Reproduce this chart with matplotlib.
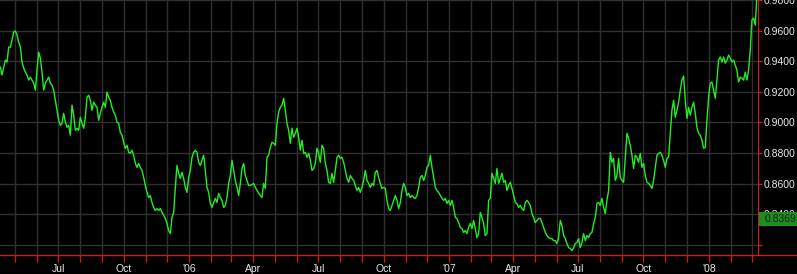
import matplotlib
matplotlib.use('Agg')
from matplotlib import pyplot as plt
from matplotlib import dates as mdates
from matplotlib import transforms
from matplotlib.lines import Line2D
from matplotlib.patches import Rectangle
import numpy as np
import pandas as pd

# closing prices, sampled evenly from 2005-04-10 to 2008-03-08
first_day = '2005-04-10 12:00'
last_day = '2008-03-08 12:00'
prices = [
	0.9362, 0.9310, 0.9362, 0.9408, 0.9395, 0.9493, 0.9493, 0.9539, 0.9591, 0.9598,
	0.9572, 0.9526, 0.9493, 0.9395, 0.9355, 0.9329, 0.9310, 0.9277, 0.9296, 0.9277,
	0.9257, 0.9211, 0.9342, 0.9460, 0.9421, 0.9329, 0.9211, 0.9257, 0.9277, 0.9296,
	0.9257, 0.9244, 0.9211, 0.9145, 0.9080, 0.9014, 0.8981, 0.8994, 0.9060, 0.9001,
	0.8968, 0.8981, 0.8916, 0.9113, 0.9047, 0.8949, 0.8962, 0.8949, 0.9034, 0.8994,
	0.8962, 0.9034, 0.9165, 0.9178, 0.9145, 0.9080, 0.9132, 0.9113, 0.9099, 0.9014,
	0.9060, 0.9099, 0.9132, 0.9099, 0.9198, 0.9165, 0.9145, 0.9099, 0.9067, 0.9047,
	0.9001, 0.8994, 0.8935, 0.8916, 0.8870, 0.8831, 0.8850, 0.8804, 0.8798, 0.8818,
	0.8785, 0.8732, 0.8706, 0.8732, 0.8706, 0.8686, 0.8640, 0.8588, 0.8542, 0.8509,
	0.8522, 0.8476, 0.8444, 0.8424, 0.8437, 0.8424, 0.8437, 0.8411, 0.8391, 0.8372,
	0.8339, 0.8293, 0.8273, 0.8378, 0.8411, 0.8575, 0.8719, 0.8667, 0.8634, 0.8673,
	0.8634, 0.8575, 0.8542, 0.8640, 0.8686, 0.8772, 0.8804, 0.8818, 0.8804, 0.8739,
	0.8719, 0.8752, 0.8785, 0.8686, 0.8575, 0.8542, 0.8470, 0.8444, 0.8476, 0.8503,
	0.8476, 0.8536, 0.8509, 0.8490, 0.8444, 0.8457, 0.8509, 0.8601, 0.8653, 0.8752,
	0.8686, 0.8621, 0.8575, 0.8522, 0.8601, 0.8699, 0.8732, 0.8653, 0.8621, 0.8588,
	0.8588, 0.8594, 0.8601, 0.8575, 0.8555, 0.8536, 0.8522, 0.8509, 0.8601, 0.8568,
	0.8772, 0.8785, 0.8837, 0.8870, 0.8863, 0.8850, 0.8994, 0.9067, 0.9099, 0.9113,
	0.9158, 0.9080, 0.8994, 0.8949, 0.8863, 0.8962, 0.8903, 0.8929, 0.8962, 0.8903,
	0.8818, 0.8883, 0.8798, 0.8804, 0.8772, 0.8798, 0.8752, 0.8686, 0.8699, 0.8732,
	0.8831, 0.8798, 0.8739, 0.8850, 0.8831, 0.8732, 0.8686, 0.8608, 0.8601, 0.8667,
	0.8608, 0.8686, 0.8772, 0.8785, 0.8765, 0.8772, 0.8739, 0.8686, 0.8634, 0.8608,
	0.8653, 0.8634, 0.8621, 0.8588, 0.8555, 0.8575, 0.8542, 0.8575, 0.8621, 0.8686,
	0.8621, 0.8601, 0.8575, 0.8601, 0.8588, 0.8673, 0.8686, 0.8640, 0.8601, 0.8568,
	0.8575, 0.8568, 0.8490, 0.8437, 0.8424, 0.8457, 0.8490, 0.8522, 0.8490, 0.8437,
	0.8476, 0.8555, 0.8601, 0.8575, 0.8522, 0.8536, 0.8509, 0.8522, 0.8509, 0.8503,
	0.8522, 0.8575, 0.8640, 0.8653, 0.8621, 0.8653, 0.8706, 0.8719, 0.8785, 0.8706,
	0.8640, 0.8575, 0.8555, 0.8542, 0.8522, 0.8503, 0.8490, 0.8503, 0.8470, 0.8490,
	0.8457, 0.8490, 0.8444, 0.8378, 0.8372, 0.8345, 0.8313, 0.8306, 0.8280, 0.8293,
	0.8273, 0.8313, 0.8339, 0.8306, 0.8358, 0.8306, 0.8247, 0.8273, 0.8411, 0.8378,
	0.8339, 0.8260, 0.8273, 0.8490, 0.8503, 0.8667, 0.8634, 0.8601, 0.8699, 0.8601,
	0.8634, 0.8667, 0.8608, 0.8621, 0.8555, 0.8588, 0.8608, 0.8568, 0.8522, 0.8476,
	0.8470, 0.8444, 0.8457, 0.8437, 0.8424, 0.8476, 0.8490, 0.8476, 0.8457, 0.8404,
	0.8378, 0.8345, 0.8358, 0.8372, 0.8372, 0.8345, 0.8313, 0.8280, 0.8260, 0.8247,
	0.8240, 0.8240, 0.8227, 0.8227, 0.8208, 0.8247, 0.8358, 0.8326, 0.8260, 0.8240,
	0.8208, 0.8181, 0.8175, 0.8162, 0.8181, 0.8208, 0.8214, 0.8240, 0.8181, 0.8214,
	0.8273, 0.8227, 0.8260, 0.8247, 0.8273, 0.8280, 0.8339, 0.8378, 0.8470, 0.8476,
	0.8457, 0.8503, 0.8444, 0.8404, 0.8490, 0.8555, 0.8804, 0.8739, 0.8765, 0.8621,
	0.8653, 0.8765, 0.8640, 0.8621, 0.8608, 0.8772, 0.8929, 0.8896, 0.8850, 0.8785,
	0.8699, 0.8785, 0.8772, 0.8739, 0.8798, 0.8706, 0.8732, 0.8653, 0.8608, 0.8601,
	0.8588, 0.8568, 0.8621, 0.8706, 0.8785, 0.8798, 0.8804, 0.8785, 0.8752, 0.8706,
	0.8765, 0.8772, 0.8929, 0.9080, 0.9145, 0.9034, 0.9080, 0.9132, 0.9211, 0.9277,
	0.9303, 0.9145, 0.9027, 0.9099, 0.9047, 0.9099, 0.9132, 0.9060, 0.8968, 0.8929,
	0.8916, 0.8883, 0.8831, 0.8837, 0.9014, 0.9165, 0.9257, 0.9264, 0.9211, 0.9158,
	0.9277, 0.9408, 0.9428, 0.9395, 0.9428, 0.9388, 0.9408, 0.9441, 0.9421, 0.9395,
	0.9408, 0.9375, 0.9342, 0.9264, 0.9296, 0.9290, 0.9277, 0.9329, 0.9277, 0.9342,
	0.9473, 0.9670, 0.9683, 0.9637, 0.9834,
]
last_quote = 0.8369

price_ticks = [0.82, 0.84, 0.86, 0.88, 0.90, 0.92, 0.94, 0.96, 0.98]
view_start = '2005-04-10'
view_end = '2008-03-10'
view_low = 0.8136
view_high = 0.9801

days = pd.date_range(first_day, last_day, periods=len(prices))

red = '#c81e1e';
grid_clr = '#303030';
txt_clr = '#e8e8e8';
font = 'Liberation Sans';

fig = plt.figure(figsize=(7.97, 2.74), dpi=100, facecolor='black');
ax = fig.add_axes([0.0, 19.5/274, 758/797, 254.5/274]);
ax.set_facecolor('black');

ax.plot(days, prices, color='#22ee22', linewidth=1.0);

ax.set_xlim(pd.Timestamp(view_start), pd.Timestamp(view_end));
ax.set_ylim(view_low, view_high);

# spines
ax.spines['top'].set_visible(False);
ax.spines['left'].set_visible(False);
ax.spines['right'].set_color(red);
ax.spines['bottom'].set_color(red);

# x axis: monthly ticks and grid, quarter labels
def monthLabel(x, pos):
	d = mdates.num2date(x);
	if d.month == 1:
		return "'" + d.strftime('%y');
	return d.strftime('%b');

ax.xaxis.set_major_locator(mdates.MonthLocator(bymonth=(1, 4, 7, 10)));
ax.xaxis.set_minor_locator(mdates.MonthLocator());
ax.xaxis.set_major_formatter(plt.FuncFormatter(monthLabel));
ax.tick_params(axis='x', which='both', direction='out', length=5, width=1,
	color=red, labelcolor=txt_clr, labelsize=7.5, pad=1.5);

# y axis on the right
ax.yaxis.tick_right();
ax.set_yticks(price_ticks);
ax.set_yticklabels(['' if p == price_ticks[0] else '%.4f' % p for p in price_ticks]);
ax.tick_params(axis='y', direction='out', length=3, width=1,
	color=red, labelcolor=txt_clr, labelsize=7.5, pad=1);

for lbl in ax.get_xticklabels() + ax.get_yticklabels():
	lbl.set_fontfamily(font);

ax.grid(True, which='both', axis='x', color=grid_clr, linewidth=1);
ax.grid(True, which='major', axis='y', color=grid_clr, linewidth=1);
ax.set_axisbelow(True);

# bottom red line runs across the whole width
y0 = ax.get_position().y0;
fig.add_artist(Line2D([0, 1], [y0, y0], transform=fig.transFigure, color=red, linewidth=1));

# last quote box
trans = transforms.blended_transform_factory(ax.transAxes, ax.transData);
box_h = 0.0092;
ax.add_patch(Rectangle((1.0015, last_quote - box_h/2), 0.052, box_h, transform=trans,
	facecolor='#1f8c1f', edgecolor='none', clip_on=False, zorder=5));
ax.text(1.009, last_quote, '%.4f' % last_quote, transform=trans, ha='left', va='center',
	fontsize=7.5, family=font, color='#0a2a0a', clip_on=False, zorder=6);

plt.savefig('out.png', dpi=100, facecolor='black');
